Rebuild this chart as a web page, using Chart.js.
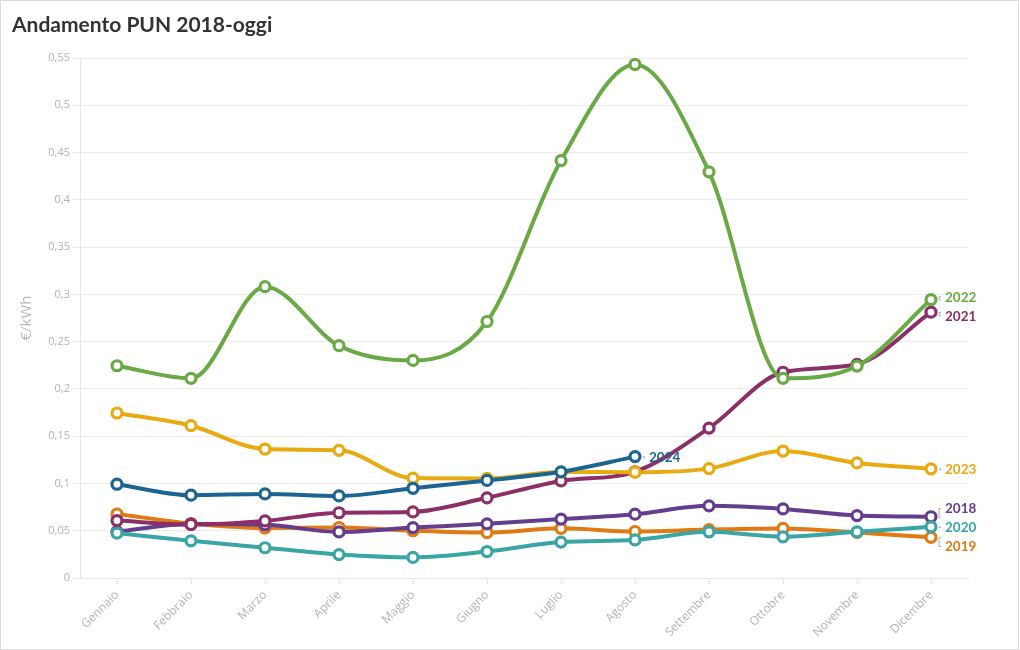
<!DOCTYPE html>
<html>
<head>
<meta charset="utf-8">
<script src="https://cdn.jsdelivr.net/npm/chart.js@4.4.1/dist/chart.umd.min.js"></script>
<style>
  html, body { margin:0; padding:0; background:#fff; }
  #wrap { position:relative; width:1020px; height:650px; }
  #title { position:absolute; left:12px; top:12px; font-family:Lato, "Noto Sans", sans-serif; font-weight:700; font-size:21px; line-height:24px; color:#333; }
  #frame { position:absolute; left:0; top:0; width:1017px; height:648px; border:1px solid #dcdcdc; pointer-events:none; }
  canvas { position:absolute; left:0; top:0; }
</style>
</head>
<body>
<div id="wrap">
  <canvas id="c" width="1020" height="650"></canvas>
  <div id="title">Andamento PUN 2018-oggi</div>
  <div id="frame"></div>
</div>
<script>
const months = ["Gennaio","Febbraio","Marzo","Aprile","Maggio","Giugno","Luglio","Agosto","Settembre","Ottobre","Novembre","Dicembre"];
const yTicks = [0,0.05,0.1,0.15,0.2,0.25,0.3,0.35,0.4,0.45,0.5,0.55];

const pun2018 = [0.0490,0.0570,0.0562,0.0487,0.0533,0.0573,0.0623,0.0675,0.0763,0.0731,0.0660,0.0648];
const pun2019 = [0.0677,0.0576,0.0529,0.0534,0.0500,0.0481,0.0525,0.0492,0.0512,0.0524,0.0482,0.0430];
const pun2020 = [0.0475,0.0393,0.0320,0.0248,0.0218,0.0280,0.0380,0.0403,0.0488,0.0436,0.0488,0.0541];
const pun2021 = [0.0607,0.0566,0.0604,0.0690,0.0699,0.0848,0.1027,0.1124,0.1586,0.2176,0.2260,0.2812];
const pun2022 = [0.2245,0.2112,0.3081,0.2457,0.2301,0.2713,0.4415,0.5431,0.4296,0.2112,0.2242,0.2945];
const pun2023 = [0.1745,0.1611,0.1364,0.1350,0.1057,0.1053,0.1121,0.1119,0.1157,0.1343,0.1217,0.1155];
const pun2024 = [0.0992,0.0876,0.0889,0.0868,0.0949,0.1032,0.1123,0.1284,null,null,null,null];

const seriesNames = ["2022","2021","2023","2024","2018","2020","2019"];
const seriesData = [pun2022,pun2021,pun2023,pun2024,pun2018,pun2020,pun2019];
const seriesColors = ["#6aaa46","#8c2f66","#e8aa10","#1c6592","#633e8e","#3aa5a5","#e07a14"];

const mk = (i) => ({
  label: seriesNames[i],
  data: seriesData[i],
  borderColor: seriesColors[i],
  backgroundColor: "#ffffff",
  pointBackgroundColor: "#ffffff",
  pointBorderColor: seriesColors[i],
  pointRadius: 5,
  pointBorderWidth: 3.2,
  borderWidth: 4,
  cubicInterpolationMode: "monotone",
  spanGaps: false,
  fill: false
});

const endLabels = {
  id: "endLabels",
  afterDatasetsDraw(chart) {
    const ctx = chart.ctx;
    const items = [];
    chart.data.datasets.forEach((ds, i) => {
      const meta = chart.getDatasetMeta(i);
      let idx = ds.data.length - 1;
      while (idx >= 0 && ds.data[idx] == null) idx--;
      const el = meta.data[idx];
      items.push({ text: ds.label, color: ds.borderColor, x: el.x, y: el.y });
    });
    const groups = {};
    items.forEach(it => { const k = Math.round(it.x); (groups[k] = groups[k] || []).push(it); });
    const gap = 19;
    Object.values(groups).forEach(g => {
      g.sort((a, b) => a.y - b.y);
      let clusters = g.map(it => ({ items: [it] }));
      const center = c => c.items.reduce((s, it) => s + it.y, 0) / c.items.length;
      let changed = true;
      while (changed) {
        changed = false;
        for (let k = 0; k < clusters.length - 1; k++) {
          const a = clusters[k], b = clusters[k + 1];
          const aBottom = center(a) + (a.items.length - 1) * gap / 2;
          const bTop = center(b) - (b.items.length - 1) * gap / 2;
          if (bTop - aBottom < gap) {
            clusters.splice(k, 2, { items: a.items.concat(b.items) });
            changed = true;
            break;
          }
        }
      }
      clusters.forEach(c => {
        const cy = center(c);
        c.items.forEach((it, j) => { it.ly = cy + (j - (c.items.length - 1) / 2) * gap; });
      });
    });
    ctx.save();
    items.forEach(it => {
      const x0 = it.x + 8;
      ctx.strokeStyle = "#aaaaaa";
      ctx.lineWidth = 1;
      ctx.beginPath();
      ctx.moveTo(x0 + 2, it.y + 0.5);
      ctx.lineTo(x0, it.y + 0.5);
      ctx.lineTo(x0, it.ly + 0.5);
      ctx.lineTo(x0 + 2, it.ly + 0.5);
      ctx.stroke();
      ctx.fillStyle = it.color;
      ctx.font = "bold 13.5px Lato, 'Noto Sans', sans-serif";
      ctx.textAlign = "left";
      ctx.textBaseline = "middle";
      ctx.fillText(it.text, x0 + 6, it.ly + 1);
    });
    ctx.restore();
  }
};

new Chart(document.getElementById("c"), {
  type: "line",
  data: {
    labels: months,
    datasets: [3, 2, 0, 1, 5, 4, 6].map(mk)
  },
  options: {
    responsive: false,
    animation: false,
    layout: { padding: { left: 0, right: 52, top: 58, bottom: 0 } },
    plugins: { legend: { display: false }, tooltip: { enabled: false } },
    scales: {
      x: {
        offset: true,
        grid: { display: true, drawOnChartArea: false, drawTicks: true, tickLength: 6, color: "#e6e6e6" },
        border: { display: true, color: "#e6e6e6" },
        ticks: {
          minRotation: 45, maxRotation: 45, padding: 4,
          color: "#b3b3b3",
          font: { family: "'Open Sans', 'Noto Sans', sans-serif", size: 12 }
        },
        afterFit(s) { s.height = 72; }
      },
      y: {
        min: 0, max: 0.55,
        afterBuildTicks(s) { s.ticks = yTicks.map(v => ({ value: v })); },
        grid: { color: "#ececec", tickLength: 8, drawTicks: true },
        border: { display: true, color: "#e6e6e6" },
        ticks: {
          padding: 2,
          color: "#b3b3b3",
          font: { family: "'Open Sans', 'Noto Sans', sans-serif", size: 11 },
          callback: v => (Math.round(v * 100) / 100).toString().replace(".", ",")
        },
        title: {
          display: true, text: "€/kWh", color: "#b8b8b8",
          font: { family: "'Open Sans', 'Noto Sans', sans-serif", size: 15 },
          padding: { top: 18, bottom: 0 }
        },
        afterFit(s) { s.width = 80; }
      }
    }
  },
  plugins: [endLabels]
});
</script>
</body>
</html>
